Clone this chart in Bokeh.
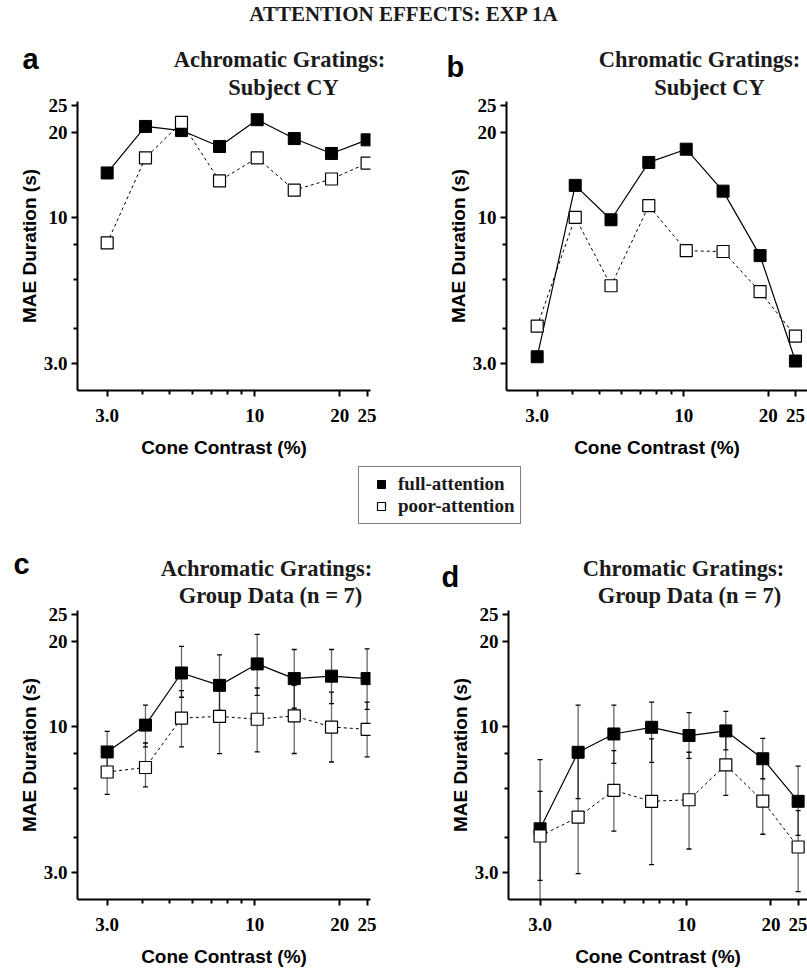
from bokeh.plotting import figure
from bokeh.models import Range1d, FixedTicker, Label, Legend, LegendItem, ColumnDataSource
from bokeh.layouts import column, row
from bokeh.embed import file_html
from bokeh.resources import INLINE

# ---------------- data ----------------
contrast = [3.0, 4.1, 5.5, 7.5, 10.2, 13.8, 18.7, 25.0]

# a: achromatic, subject CY
full_a = [14.4, 21.1, 20.4, 17.9, 22.3, 19.1, 16.9, 18.9]
poor_a = [8.1, 16.3, 21.8, 13.5, 16.3, 12.5, 13.7, 15.6]

# b: chromatic, subject CY
full_b = [3.18, 13.0, 9.8, 15.7, 17.5, 12.4, 7.3, 3.07]
poor_b = [4.09, 10.0, 5.7, 11.0, 7.6, 7.55, 5.43, 3.77]

# c: achromatic, group (n = 7)
full_c = [8.1, 10.1, 15.5, 14.0, 16.7, 14.8, 15.1, 14.8]
full_c_hi = [9.6, 11.9, 19.3, 18.0, 21.3, 18.8, 18.8, 18.9]
full_c_lo = [7.0, 8.44, 12.7, 11.4, 12.9, 11.6, 12.05, 11.5]
poor_c = [6.87, 7.13, 10.7, 10.85, 10.6, 10.9, 9.94, 9.76]
poor_c_hi = [7.9, 8.72, 13.4, 13.5, 13.7, 14.0, 13.25, 12.2]
poor_c_lo = [5.72, 6.08, 8.44, 7.99, 8.1, 8.0, 7.46, 7.78]

# d: chromatic, group (n = 7)
full_d = [4.31, 8.08, 9.39, 9.92, 9.27, 9.63, 7.66, 5.4]
full_d_hi = [5.86, 11.9, 11.9, 12.2, 11.2, 11.3, 9.06, 7.21]
full_d_lo = [2.82, 5.52, 7.38, 7.44, 7.69, 8.24, 6.5, 4.08]
poor_d = [4.06, 4.74, 5.91, 5.4, 5.47, 7.29, 5.41, 3.71]
poor_d_hi = [7.61, 7.8, 8.19, 9.02, 8.08, 9.4, 7.4, 5.0]
poor_d_lo = [1.5, 2.98, 4.23, 3.21, 3.65, 5.67, 4.12, 2.57]

x_major = [3, 10, 20, 25]
x_minor = [4, 5, 6, 7, 8, 9]
y_major = [3, 10, 20, 25]
y_minor = [4, 6, 8]
tick_text = {3: "3.0", 10: "10", 20: "20", 25: "25"}

main_title = "ATTENTION EFFECTS: EXP 1A"
panel_letters = ["a", "b", "c", "d"]
panel_titles = [("Achromatic Gratings:", "Subject CY"),
                ("Chromatic Gratings:", "Subject CY"),
                ("Achromatic Gratings:", "Group Data (n = 7)"),
                ("Chromatic Gratings:", "Group Data (n = 7)")]
series_names = ["full-attention", "poor-attention"]
x_title = "Cone Contrast (%)"
y_title = "MAE Duration (s)"

SERIF = "Liberation Serif"
SANS = "Liberation Sans"


def make_panel(full, poor, xr, yr, left, right, top, bottom, fw, fh,
               full_err=None, poor_err=None):
    p = figure(x_axis_type="log", y_axis_type="log",
               x_range=Range1d(*xr), y_range=Range1d(*yr),
               frame_width=fw, frame_height=fh,
               min_border_left=left, min_border_right=right,
               min_border_top=top, min_border_bottom=bottom,
               toolbar_location=None, output_backend="svg",
               outline_line_color=None, border_fill_color=None)
    p.grid.visible = False
    for ax in (p.xaxis[0], p.yaxis[0]):
        ax.axis_line_width = 2
        ax.major_tick_line_width = 2
        ax.minor_tick_line_width = 2
        ax.major_tick_in = 0
        ax.minor_tick_in = 0
        ax.major_tick_out = 6
        ax.minor_tick_out = 4
        ax.major_label_text_font = SERIF
        ax.major_label_text_font_style = "bold"
        ax.major_label_text_font_size = "19px"
        ax.major_label_text_color = "black"
        ax.axis_label_text_font = SANS
        ax.axis_label_text_font_style = "bold"
        ax.axis_label_text_font_size = "19px"
        ax.axis_label_text_color = "black"
        ax.major_label_overrides = tick_text
    p.xaxis.ticker = FixedTicker(ticks=x_major, minor_ticks=x_minor)
    p.yaxis.ticker = FixedTicker(ticks=y_major, minor_ticks=y_minor)
    p.xaxis.axis_label = x_title
    p.yaxis.axis_label = y_title
    p.xaxis.major_label_standoff = 12
    p.xaxis.axis_label_standoff = 12
    p.yaxis.major_label_standoff = 4
    p.yaxis.axis_label_standoff = 1

    if full_err is not None:
        for (lo, hi) in (poor_err, full_err):
            src = ColumnDataSource(dict(x=contrast, lo=lo, hi=hi))
            p.segment(x0="x", y0="lo", x1="x", y1="hi", source=src,
                      line_color="black", line_alpha=0.6, line_width=1.3)
            p.scatter(x="x", y="lo", source=src, marker="dash", size=5,
                      line_color="black", line_width=1.3)
            p.scatter(x="x", y="hi", source=src, marker="dash", size=5,
                      line_color="black", line_width=1.3)

    p.line(contrast, full, line_color="black", line_width=1.2)
    p.line(contrast, poor, line_color="black", line_width=1.0, line_dash="3 3")
    p.scatter(contrast, full, marker="square", size=12,
              fill_color="black", line_color="black", line_width=1)
    p.scatter(contrast, poor, marker="square", size=12,
              fill_color="white", line_color="black", line_width=1.2)
    return p


def strip(height):
    s = figure(width=807, height=height, x_range=Range1d(0, 1), y_range=Range1d(0, 1),
               x_axis_location=None, y_axis_location=None, min_border=0,
               toolbar_location=None, output_backend="svg", outline_line_color=None)
    s.grid.visible = False
    return s


def add_text(fig, txt, x, y, font, size, align, color="#1a1a1a"):
    fig.add_layout(Label(x=x, y=y, x_units="canvas", y_units="canvas", text=txt,
                         text_font=font, text_font_style="bold", text_font_size=size,
                         text_align=align, text_baseline="alphabetic",
                         text_color=color))


def add_header(fig, idx, letter_xy, c1, c2, b1, b2):
    add_text(fig, panel_letters[idx], letter_xy[0], letter_xy[1], SANS, "29px", "left", "black")
    add_text(fig, panel_titles[idx][0], c1, b1, SERIF, "22.5px", "center")
    add_text(fig, panel_titles[idx][1], c2, b2, SERIF, "22.5px", "center")


YR = (2.41, 25.9)
OVER = 10  # panel canvases overlap the strip above by this many pixels

pa = make_panel(full_a, poor_a, (2.355, 25.7), YR, 77, 33, OVER, 70, 293, 289)
pb = make_panel(full_b, poor_b, (2.332, 27.6), YR, 103, 0, OVER, 70, 301, 289)
pc = make_panel(full_c, poor_c, (2.355, 25.7), YR, 77, 33, OVER, 70, 293, 289,
                full_err=(full_c_lo, full_c_hi), poor_err=(poor_c_lo, poor_c_hi))
pd = make_panel(full_d, poor_d, (2.314, 27.0), YR, 105, 0, OVER, 70, 299, 289,
                full_err=(full_d_lo, full_d_hi), poor_err=(poor_d_lo, poor_d_hi))

# top strip: main title + headers of panels a, b
top = strip(101)
add_text(top, main_title, 403.5, 13, SERIF, "21px", "center")
add_header(top, 0, (22, 58), 279, 283, 59, 87)
add_header(top, 1, (446, 66), 699, 709, 59, 87)

# middle strip: legend + headers of panels c, d
mid = strip(150)
r_full = mid.scatter(x=[-5], y=[-5], marker="square", fill_color="black", line_color="black")
r_poor = mid.scatter(x=[-5], y=[-5], marker="square", fill_color="white", line_color="black",
                     line_width=1.2)
leg = Legend(items=[LegendItem(label=series_names[0], renderers=[r_full]),
                    LegendItem(label=series_names[1], renderers=[r_poor])],
             location=(358, 86), padding=6, spacing=0, margin=0,
             glyph_width=32, glyph_height=20, label_height=20, label_standoff=1,
             label_text_font=SERIF, label_text_font_style="bold",
             label_text_font_size="19px", label_text_color="#1a1a1a",
             border_line_color="black", border_line_width=1)
mid.add_layout(leg)
add_header(mid, 2, (13, 103), 266, 270, 108, 135)
add_header(mid, 3, (441, 116), 683, 689, 108, 135)

row1 = row(pa, pb, margin=(-OVER, 0, 0, 0))
row2 = row(pc, pd, margin=(-OVER, 0, 0, 0))
layout = column(top, row1, mid, row2)

open("out.html", "w").write(file_html(layout, INLINE))
